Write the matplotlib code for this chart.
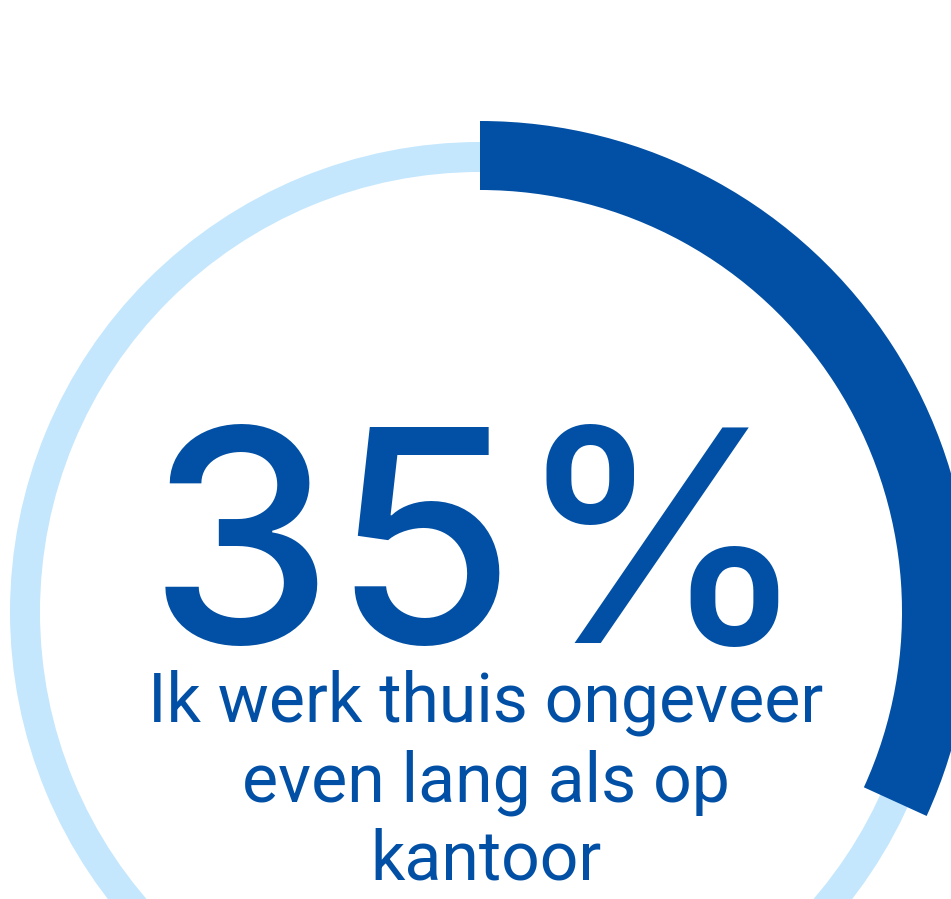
import matplotlib.pyplot as plt
from matplotlib.patches import Wedge

# gegevens
percentage = 35
gauge_max = 110          # boog in het origineel loopt tot ca. 114 graden
label_big = str(percentage) + '%'
label_lines = ['Ik werk thuis ongeveer', 'even lang als op', 'kantoor']

donker = '#0250A5'
licht = '#C4E7FD'

W, H = 951, 899
fig = plt.figure(figsize=(W / 100, H / 100), dpi=100, facecolor='white')
ax = fig.add_axes([0, 0, 1, 1])
ax.set_xlim(0, W)
ax.set_ylim(0, H)
ax.axis('off')

cx, cy = 480, H - 612

# lichte achtergrondring
ax.add_patch(Wedge((cx, cy), 470, 0, 360, width=30, facecolor=licht, edgecolor='none'))

# donkere boog, met de klok mee vanaf 12 uur
hoek = 360 * percentage / gauge_max
ax.add_patch(Wedge((cx, cy), 491, 90 - hoek, 90, width=69, facecolor=donker, edgecolor='none'))

ax.text(479, H - 643, label_big, ha='center', va='baseline', color=donker,
        fontsize=213, fontfamily='Inter', fontweight='medium')

baselines = [722, 802, 880]
for txt, b in zip(label_lines, baselines):
    ax.text(486, H - b, txt, ha='center', va='baseline', color=donker,
            fontsize=49, fontfamily='Roboto')

fig.savefig('out.png', dpi=100, facecolor='white')
